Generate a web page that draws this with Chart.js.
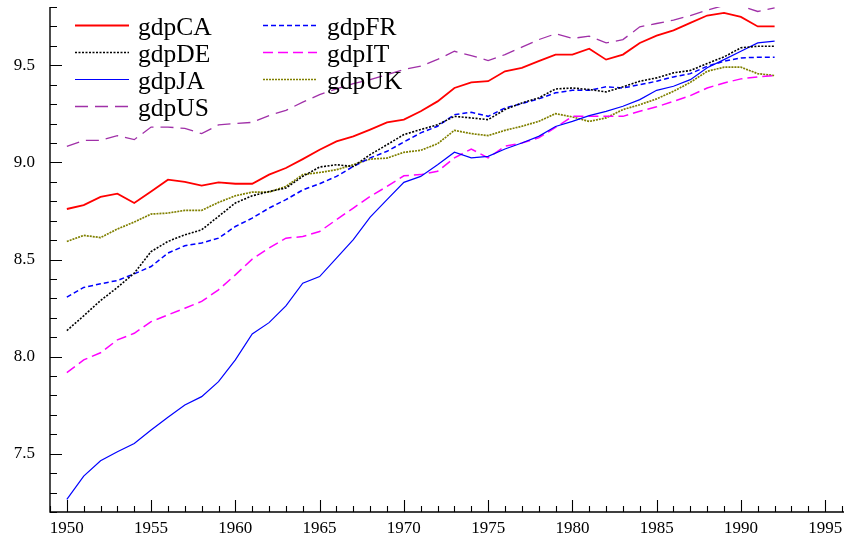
<!DOCTYPE html>
<html>
<head>
<meta charset="utf-8">
<script src="https://cdn.jsdelivr.net/npm/chart.js@4.4.0/dist/chart.umd.min.js"></script>
<style>
  html, body { margin: 0; padding: 0; background: #ffffff; }
  #wrap { width: 844px; height: 542px; }
</style>
</head>
<body>
<div id="wrap"><canvas id="c" width="844" height="542"></canvas></div>
<script>
// Log real GDP per capita, 1950-1992
const years = [1950, 1951, 1952, 1953, 1954, 1955, 1956, 1957, 1958, 1959,
               1960, 1961, 1962, 1963, 1964, 1965, 1966, 1967, 1968, 1969,
               1970, 1971, 1972, 1973, 1974, 1975, 1976, 1977, 1978, 1979,
               1980, 1981, 1982, 1983, 1984, 1985, 1986, 1987, 1988, 1989,
               1990, 1991, 1992];

const gdpCA = [8.760, 8.780, 8.822, 8.839, 8.791, 8.850, 8.911, 8.900, 8.880, 8.897,
               8.890, 8.890, 8.937, 8.971, 9.017, 9.065, 9.108, 9.134, 9.169, 9.206,
               9.220, 9.263, 9.314, 9.383, 9.412, 9.418, 9.469, 9.487, 9.521, 9.555,
               9.555, 9.585, 9.529, 9.555, 9.615, 9.653, 9.680, 9.718, 9.756, 9.770,
               9.749, 9.700, 9.700];

const gdpDE = [8.134, 8.210, 8.289, 8.356, 8.430, 8.541, 8.593, 8.627, 8.653, 8.722,
               8.791, 8.828, 8.850, 8.868, 8.928, 8.976, 8.988, 8.979, 9.040, 9.091,
               9.143, 9.169, 9.194, 9.237, 9.229, 9.220, 9.272, 9.306, 9.332, 9.378,
               9.383, 9.375, 9.363, 9.389, 9.418, 9.435, 9.461, 9.473, 9.509, 9.543,
               9.590, 9.598, 9.598];

const gdpJA = [7.265, 7.385, 7.464, 7.510, 7.553, 7.622, 7.688, 7.751, 7.794, 7.871,
               7.983, 8.117, 8.175, 8.261, 8.378, 8.412, 8.507, 8.602, 8.718, 8.808,
               8.897, 8.928, 8.988, 9.052, 9.023, 9.031, 9.069, 9.100, 9.134, 9.185,
               9.211, 9.241, 9.263, 9.289, 9.323, 9.371, 9.392, 9.426, 9.487, 9.529,
               9.572, 9.615, 9.624];

const gdpUS = [9.083, 9.113, 9.113, 9.138, 9.117, 9.182, 9.182, 9.175, 9.148, 9.193,
               9.200, 9.206, 9.241, 9.268, 9.310, 9.349, 9.378, 9.406, 9.426, 9.452,
               9.478, 9.495, 9.530, 9.572, 9.550, 9.524, 9.555, 9.593, 9.632, 9.662,
               9.638, 9.650, 9.615, 9.632, 9.698, 9.715, 9.732, 9.756, 9.784, 9.808,
               9.805, 9.777, 9.796];

const gdpFR = [8.306, 8.356, 8.375, 8.392, 8.426, 8.464, 8.533, 8.571, 8.585, 8.610,
               8.670, 8.713, 8.765, 8.808, 8.858, 8.890, 8.928, 8.979, 9.023, 9.057,
               9.105, 9.152, 9.186, 9.246, 9.258, 9.237, 9.280, 9.303, 9.327, 9.358,
               9.371, 9.371, 9.389, 9.383, 9.400, 9.418, 9.440, 9.457, 9.495, 9.521,
               9.538, 9.541, 9.541];

const gdpIT = [7.918, 7.983, 8.020, 8.086, 8.120, 8.180, 8.215, 8.249, 8.284, 8.344,
               8.421, 8.502, 8.559, 8.610, 8.618, 8.644, 8.705, 8.765, 8.825, 8.876,
               8.931, 8.937, 8.954, 9.023, 9.069, 9.023, 9.083, 9.100, 9.126, 9.180,
               9.237, 9.237, 9.237, 9.237, 9.263, 9.286, 9.314, 9.344, 9.383, 9.409,
               9.430, 9.440, 9.447];

const gdpUK = [8.593, 8.624, 8.613, 8.657, 8.693, 8.734, 8.739, 8.753, 8.753, 8.794,
               8.828, 8.847, 8.847, 8.876, 8.937, 8.948, 8.962, 8.988, 9.017, 9.022,
               9.052, 9.062, 9.096, 9.165, 9.148, 9.138, 9.165, 9.186, 9.211, 9.251,
               9.234, 9.211, 9.229, 9.272, 9.297, 9.327, 9.366, 9.412, 9.469, 9.490,
               9.490, 9.457, 9.447];

const xTickLabels = [1950, 1955, 1960, 1965, 1970, 1975, 1980, 1985, 1990, 1995];
const yTickLabels = [7.5, 8.0, 8.5, 9.0, 9.5];

const FONT = "'Liberation Serif', 'Times New Roman', serif";

const toPoints = (vals) => years.map((yr, i) => ({ x: yr, y: vals[i] }));

function series(label, vals, color, width, dash) {
  return {
    label: label,
    data: toPoints(vals),
    borderColor: color,
    backgroundColor: color,
    borderWidth: width,
    borderDash: dash,
    pointRadius: 0,
    tension: 0,
    fill: false
  };
}

// legend slots: [column, row]
const legendSlots = [[0, 0], [0, 1], [0, 2], [0, 3], [1, 0], [1, 1], [1, 2]];

const legendPlugin = {
  id: 'cornerLegend',
  afterDraw(chart) {
    const ctx = chart.ctx;
    const cols = [{ x0: 75, x1: 129, tx: 138 }, { x0: 263, x1: 317, tx: 327 }];
    const rowY = [25.5, 52.5, 79.5, 106.5];
    ctx.save();
    chart.data.datasets.forEach((ds, i) => {
      const [c, r] = legendSlots[i];
      const col = cols[c];
      const y = rowY[r];
      ctx.beginPath();
      ctx.strokeStyle = ds.borderColor;
      ctx.lineWidth = ds.borderWidth;
      ctx.setLineDash(ds.borderDash || []);
      ctx.moveTo(col.x0, y);
      ctx.lineTo(col.x1, y);
      ctx.stroke();
      ctx.setLineDash([]);
      ctx.fillStyle = '#000';
      ctx.font = '25.5px ' + FONT;
      ctx.textAlign = 'left';
      ctx.textBaseline = 'alphabetic';
      ctx.fillText(ds.label, col.tx, y + 9);
    });
    ctx.restore();
  }
};

// axis lines with inward-pointing major and minor ticks
const axesPlugin = {
  id: 'innerAxes',
  afterDraw(chart) {
    const ctx = chart.ctx;
    const a = chart.chartArea;
    const xs = chart.scales.x;
    const ys = chart.scales.y;
    ctx.save();
    ctx.strokeStyle = '#000';
    ctx.lineWidth = 1.4;
    ctx.beginPath();
    ctx.moveTo(a.left, a.top);
    ctx.lineTo(a.left, a.bottom);
    ctx.lineTo(a.right + 2, a.bottom);
    ctx.stroke();

    ctx.lineWidth = 1.1;
    ctx.beginPath();
    for (let yr = Math.ceil(xs.min); yr <= xs.max; yr++) {
      const px = Math.round(xs.getPixelForValue(yr)) + 0.5;
      const len = yr % 5 === 0 ? 12 : 6;
      ctx.moveTo(px, a.bottom);
      ctx.lineTo(px, a.bottom - len);
    }
    for (let k = Math.round(ys.min * 10); k <= Math.round(ys.max * 10); k++) {
      const py = Math.round(ys.getPixelForValue(k / 10)) + 0.5;
      const len = k % 5 === 0 ? 12 : 7;
      ctx.moveTo(a.left, py);
      ctx.lineTo(a.left + len, py);
    }
    ctx.stroke();
    ctx.restore();
  }
};

new Chart(document.getElementById('c'), {
  type: 'line',
  data: {
    datasets: [
      series('gdpCA', gdpCA, '#ff0000', 1.8, []),
      series('gdpDE', gdpDE, '#000000', 1.6, [2, 1.5]),
      series('gdpJA', gdpJA, '#0000ff', 1.2, []),
      series('gdpUS', gdpUS, '#a030a8', 1.3, [13, 7]),
      series('gdpFR', gdpFR, '#0000ff', 1.5, [5, 3]),
      series('gdpIT', gdpIT, '#ff00ff', 1.5, [10, 5]),
      series('gdpUK', gdpUK, '#808000', 1.7, [2, 1])
    ]
  },
  options: {
    responsive: false,
    animation: false,
    devicePixelRatio: 1,
    layout: { padding: { top: 7, right: 2, left: 0, bottom: 0 } },
    plugins: {
      legend: { display: false },
      tooltip: { enabled: false }
    },
    scales: {
      x: {
        type: 'linear',
        min: 1949,
        max: 1996,
        grid: { display: false, drawTicks: false },
        border: { display: false },
        ticks: {
          color: '#000',
          font: { family: FONT, size: 17 },
          padding: 6,
          maxRotation: 0,
          autoSkip: false,
          callback: (v) => String(v)
        },
        afterBuildTicks: (s) => { s.ticks = xTickLabels.map((v) => ({ value: v })); },
        afterFit: (s) => {
          s.height = 30;
          s.paddingLeft = 0; s.paddingRight = 0; s.paddingTop = 0; s.paddingBottom = 0;
        }
      },
      y: {
        type: 'linear',
        min: 7.2,
        max: 9.8,
        grid: { display: false, drawTicks: false },
        border: { display: false },
        ticks: {
          color: '#000',
          font: { family: FONT, size: 17 },
          padding: 15,
          autoSkip: false,
          callback: (v) => Number(v).toFixed(1)
        },
        afterBuildTicks: (s) => { s.ticks = yTickLabels.map((v) => ({ value: v })); },
        afterFit: (s) => {
          s.width = 50;
          s.paddingLeft = 0; s.paddingRight = 0; s.paddingTop = 0; s.paddingBottom = 0;
        }
      }
    }
  },
  plugins: [axesPlugin, legendPlugin]
});
</script>
</body>
</html>
